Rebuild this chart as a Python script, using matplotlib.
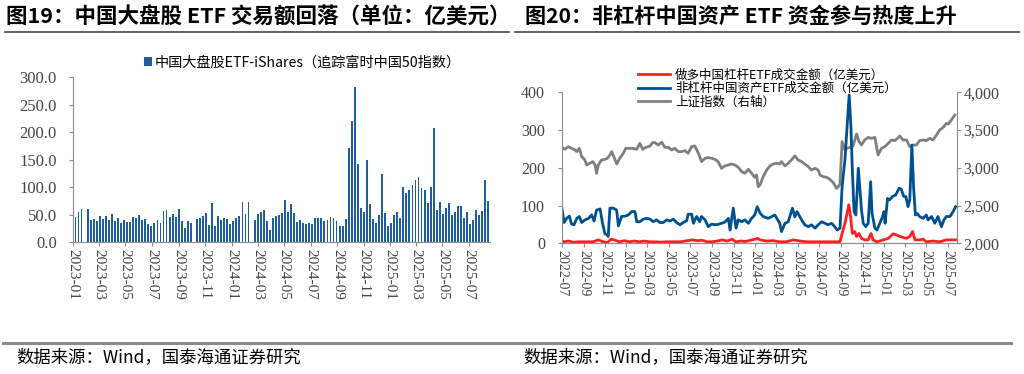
import matplotlib
matplotlib.use("Agg")
import matplotlib.pyplot as plt
import matplotlib.ticker as mticker
import numpy as np
import pandas as pd

plt.rcParams['font.family'] = ['Noto Sans CJK SC', 'DejaVu Sans']
plt.rcParams['axes.unicode_minus'] = False

# ---- left chart: weekly turnover of the China large-cap ETF (100m USD), NaN = no bar
etf_start = "2023-01-06"
etf_turnover = [
    46, 56, 61, np.nan, 61, 40, 43, 39, 48, 42, 48, 40, 51, 39, 44, 35, 40, 37, 37, 46,
    44, 49, 41, 42, 34, 30, 35, 41, 35, 57, 58, 46, 52, 46, 61, 39, 27, 39, 36, np.nan,
    42, 44, 48, 53, 31, 71, 29, 48, 41, 44, 42, 33, 39, 45, 48, 73, 52, 73, np.nan, 40,
    52, 56, 59, 38, 22, 44, 48, 50, 53, 77, 55, 69, 54, 37, 40, 35, 33, 36, 33, 44,
    45, 44, 39, 40, 47, 44, 38, 30, 30, 42, 172, 220, 282, 142, 62, 55, 150, 70, 42, 35,
    50, 125, 53, 29, 36, 50, 56, 44, 100, 89, 96, 105, 113, 119, 99, 95, 71, 101, 208, 59,
    73, 52, 62, 71, 50, 56, 67, 67, 44, 56, 34, 40, 58, 49, 57, 113, 75,
]
left_ticks = pd.date_range("2023-01-01", "2025-07-01", freq="2MS")

# ---- right chart
lev_dates = [
    "2022-07-01", "2022-07-10", "2022-07-20", "2022-08-03", "2022-08-17", "2022-08-31",
    "2022-09-15", "2022-09-29", "2022-10-13", "2022-10-27", "2022-11-08", "2022-11-18",
    "2022-11-27", "2022-12-12", "2022-12-26", "2023-01-09", "2023-01-23", "2023-02-06",
    "2023-02-20", "2023-03-07", "2023-03-21", "2023-04-09", "2023-04-28", "2023-05-17",
    "2023-06-04", "2023-06-23", "2023-07-07", "2023-07-21", "2023-08-04", "2023-08-18",
    "2023-09-01", "2023-09-16", "2023-09-30", "2023-10-14", "2023-10-28", "2023-11-07",
    "2023-11-21", "2023-12-05", "2023-12-19", "2024-01-02", "2024-01-08", "2024-01-15",
    "2024-02-03", "2024-02-21", "2024-03-11", "2024-03-30", "2024-04-18", "2024-05-07",
    "2024-05-26", "2024-06-14", "2024-07-03", "2024-07-22", "2024-08-10", "2024-08-29",
    "2024-09-04", "2024-09-12", "2024-09-18", "2024-09-23", "2024-09-28", "2024-10-03",
    "2024-10-10", "2024-10-15", "2024-10-22", "2024-10-29", "2024-11-07", "2024-11-17",
    "2024-11-25", "2024-12-01", "2024-12-11", "2024-12-20", "2024-12-30", "2025-01-13",
    "2025-01-27", "2025-02-06", "2025-02-15", "2025-03-06", "2025-03-15", "2025-03-23",
    "2025-03-30", "2025-04-12", "2025-04-22", "2025-05-01", "2025-05-20", "2025-06-08",
    "2025-06-27", "2025-07-23",
]
lev_turnover = [
    6, 4, 6, 3, 4, 4, 4, 4, 9, 4, 2, 11, 9, 4, 7, 4, 6, 4, 6, 4, 4, 3, 4, 4, 4, 7, 9, 7,
    8, 4, 4, 6, 9, 6, 11, 4, 6, 5, 8, 11, 13, 9, 6, 7, 4, 4, 9, 6, 4, 4, 4, 4, 4, 4,
    26, 53, 79, 102, 71, 26, 31, 18, 26, 13, 9, 9, 26, 9, 4, 6, 9, 13, 25, 22, 18, 13,
    18, 31, 9, 9, 11, 4, 6, 4, 9, 9,
]

china_dates = [
    "2022-07-01", "2022-07-08", "2022-07-15", "2022-07-23", "2022-07-29", "2022-08-05",
    "2022-08-13", "2022-08-20", "2022-08-27", "2022-09-05", "2022-09-15", "2022-09-24",
    "2022-10-01", "2022-10-08", "2022-10-18", "2022-10-25", "2022-11-01", "2022-11-08",
    "2022-11-10", "2022-11-15", "2022-11-25", "2022-12-04", "2022-12-09", "2022-12-18",
    "2022-12-28", "2023-01-06", "2023-01-16", "2023-01-25", "2023-01-30", "2023-02-08",
    "2023-02-18", "2023-02-27", "2023-03-09", "2023-03-18", "2023-03-27", "2023-04-06",
    "2023-04-15", "2023-04-25", "2023-05-04", "2023-05-14", "2023-05-23", "2023-06-02",
    "2023-06-11", "2023-06-21", "2023-06-25", "2023-07-05", "2023-07-10", "2023-07-19",
    "2023-07-28", "2023-08-02", "2023-08-12", "2023-08-21", "2023-08-31", "2023-09-09",
    "2023-09-18", "2023-09-28", "2023-10-07", "2023-10-17", "2023-10-22", "2023-10-31",
    "2023-11-08", "2023-11-14", "2023-11-24", "2023-12-03", "2023-12-13", "2023-12-22",
    "2023-12-31", "2024-01-07", "2024-01-15", "2024-01-24", "2024-02-07", "2024-02-26",
    "2024-03-11", "2024-03-16", "2024-03-26", "2024-04-04", "2024-04-16", "2024-04-23",
    "2024-04-29", "2024-05-12", "2024-05-21", "2024-05-31", "2024-06-09", "2024-06-19",
    "2024-06-28", "2024-07-08", "2024-07-17", "2024-07-26", "2024-08-05", "2024-08-14",
    "2024-08-21", "2024-08-29", "2024-09-04", "2024-09-12", "2024-09-18", "2024-09-24",
    "2024-09-29", "2024-10-03", "2024-10-08", "2024-10-13", "2024-10-20", "2024-10-24",
    "2024-10-29", "2024-11-03", "2024-11-10", "2024-11-17", "2024-11-24", "2024-11-28",
    "2024-12-06", "2024-12-12", "2024-12-20", "2024-12-28", "2025-01-01", "2025-01-04",
    "2025-01-11", "2025-01-17", "2025-01-25", "2025-02-03", "2025-02-13", "2025-02-19",
    "2025-02-26", "2025-03-04", "2025-03-10", "2025-03-15", "2025-03-21", "2025-03-26",
    "2025-03-31", "2025-04-05", "2025-04-12", "2025-04-22", "2025-05-01", "2025-05-06",
    "2025-05-16", "2025-05-25", "2025-06-03", "2025-06-13", "2025-06-20", "2025-06-27",
    "2025-07-07", "2025-07-16", "2025-07-23",
]
china_turnover = [
    97, 55, 66, 72, 51, 49, 66, 71, 55, 62, 66, 75, 59, 88, 91, 53, 25, 22, 18, 93,
    93, 88, 46, 71, 72, 75, 84, 84, 57, 57, 64, 66, 64, 57, 62, 55, 55, 62, 59, 64,
    55, 49, 55, 60, 77, 77, 53, 71, 57, 71, 62, 44, 51, 49, 50, 53, 56, 66, 35, 93,
    40, 62, 57, 62, 53, 66, 75, 97, 80, 71, 66, 75, 53, 31, 53, 57, 93, 70, 84, 62,
    49, 44, 49, 40, 49, 57, 53, 49, 53, 44, 35, 40, 150, 221, 309, 393, 309, 194, 84, 75,
    199, 150, 88, 53, 44, 53, 163, 79, 40, 35, 53, 71, 84, 53, 119, 115, 124, 128, 146, 143,
    124, 124, 97, 115, 260, 146, 75, 79, 71, 66, 75, 62, 71, 53, 71, 44, 62, 71, 71, 84,
    97,
]

sse_dates = [
    "2022-07-01", "2022-07-10", "2022-07-20", "2022-07-29", "2022-08-08", "2022-08-13",
    "2022-08-20", "2022-08-27", "2022-09-05", "2022-09-10", "2022-09-19", "2022-09-27",
    "2022-10-04", "2022-10-08", "2022-10-13", "2022-10-22", "2022-11-01", "2022-11-08",
    "2022-11-15", "2022-11-20", "2022-11-26", "2022-12-04", "2022-12-13", "2022-12-23",
    "2022-12-30", "2023-01-11", "2023-01-20", "2023-01-30", "2023-02-08", "2023-02-16",
    "2023-02-25", "2023-03-09", "2023-03-16", "2023-03-23", "2023-04-01", "2023-04-11",
    "2023-04-20", "2023-04-30", "2023-05-09", "2023-05-18", "2023-05-28", "2023-06-06",
    "2023-06-16", "2023-06-25", "2023-07-05", "2023-07-14", "2023-07-24", "2023-08-02",
    "2023-08-12", "2023-08-21", "2023-08-31", "2023-09-09", "2023-09-18", "2023-09-28",
    "2023-10-07", "2023-10-17", "2023-10-26", "2023-11-05", "2023-11-14", "2023-11-24",
    "2023-12-03", "2023-12-13", "2023-12-22", "2023-12-31", "2024-01-05", "2024-01-10",
    "2024-01-15", "2024-01-24", "2024-02-03", "2024-02-12", "2024-02-21", "2024-03-02",
    "2024-03-11", "2024-03-16", "2024-03-26", "2024-04-04", "2024-04-13", "2024-04-23",
    "2024-05-02", "2024-05-12", "2024-05-21", "2024-05-31", "2024-06-09", "2024-06-19",
    "2024-06-28", "2024-07-03", "2024-07-12", "2024-07-22", "2024-07-31", "2024-08-10",
    "2024-08-19", "2024-08-24", "2024-08-29", "2024-09-04", "2024-09-12", "2024-09-18",
    "2024-09-26", "2024-10-05", "2024-10-15", "2024-10-22", "2024-10-29", "2024-11-07",
    "2024-11-17", "2024-11-26", "2024-12-06", "2024-12-15", "2024-12-25", "2025-01-03",
    "2025-01-13", "2025-01-22", "2025-02-01", "2025-02-15", "2025-02-24", "2025-03-06",
    "2025-03-15", "2025-03-25", "2025-04-03", "2025-04-12", "2025-04-22", "2025-05-01",
    "2025-05-11", "2025-05-20", "2025-05-30", "2025-06-08", "2025-06-18", "2025-06-27",
    "2025-07-02", "2025-07-11", "2025-07-21",
]
sse_index = [
    3272, 3245, 3280, 3258, 3236, 3214, 3258, 3148, 3104, 3037, 3060, 3082, 3037, 2927,
    3037, 3104, 3112, 3126, 3170, 3214, 3148, 3051, 3126, 3192, 3258, 3258, 3258, 3245,
    3324, 3245, 3271, 3289, 3333, 3333, 3302, 3338, 3271, 3271, 3236, 3258, 3214, 3214,
    3227, 3192, 3280, 3289, 3192, 3082, 3126, 3135, 3126, 3112, 3082, 2993, 3024, 3037,
    3051, 3037, 3007, 2949, 2927, 2980, 2927, 2874, 2905, 2750, 2773, 2883, 2971, 3024,
    3051, 3060, 3051, 3082, 3024, 3060, 3104, 3157, 3104, 3082, 3051, 3015, 2971, 2993,
    2971, 2905, 2883, 2874, 2848, 2803, 2728, 2750, 2786, 3347, 3236, 3258, 3271, 3289,
    3448, 3347, 3302, 3368, 3403, 3390, 3403, 3170, 3258, 3280, 3324, 3368, 3360, 3421,
    3368, 3368, 3280, 3302, 3302, 3360, 3368, 3360, 3390, 3368, 3435, 3501, 3536, 3589,
    3580, 3633, 3700,
]
right_ticks = pd.date_range("2022-07-01", "2025-07-01", freq="2MS")

num_font = "Liberation Serif"
cjk = ['Noto Sans CJK SC', 'DejaVu Sans']
axis_gray = "#8c8c8c"

fig = plt.figure(figsize=(10.24, 3.74), dpi=100)

# titles and rules
fig.text(0.006, 0.955, "图19：中国大盘股 ETF 交易额回落（单位：亿美元）", fontsize=15.5,
         fontweight="bold", family=cjk, va="center", ha="left")
fig.text(0.513, 0.955, "图20：非杠杆中国资产 ETF 资金参与热度上升", fontsize=15.2,
         fontweight="bold", family=cjk, va="center", ha="left")
fig.add_artist(plt.Line2D([0.005, 0.497], [0.915, 0.915], color="#555555", lw=1.3))
fig.add_artist(plt.Line2D([0.503, 0.995], [0.915, 0.915], color="#555555", lw=1.3))
fig.add_artist(plt.Line2D([0.003, 0.987], [0.083, 0.083], color="#8a8a8a", lw=2.2))
fig.text(0.016, 0.045, "数据来源：Wind，国泰海通证券研究", fontsize=12.5, family=cjk,
         va="center", ha="left")
fig.text(0.511, 0.045, "数据来源：Wind，国泰海通证券研究", fontsize=12.5, family=cjk,
         va="center", ha="left")

# ---- left chart
ax1 = fig.add_axes([0.0716, 0.352, 0.407, 0.441])
wk = pd.date_range(etf_start, periods=len(etf_turnover), freq="7D")
vals = np.array(etf_turnover, dtype=float)
ax1.bar(wk, vals, width=4.3, color="#1f5e9c", label="中国大盘股ETF-iShares（追踪富时中国50指数）")
ax1.set_ylim(0, 300)
ax1.set_yticks(np.arange(0, 301, 50))
ax1.yaxis.set_major_formatter(mticker.FuncFormatter(lambda v, p: f"{v:.1f}"))
ax1.set_xlim(pd.Timestamp("2023-01-01"), pd.Timestamp("2025-08-19"))
ax1.set_xticks(left_ticks)
ax1.set_xticklabels([d.strftime("%Y-%m") for d in left_ticks], rotation=-90,
                    family=num_font, fontsize=11)
for lab in ax1.get_yticklabels():
    lab.set_family(num_font)
    lab.set_fontsize(12)
for s in ["top", "right"]:
    ax1.spines[s].set_visible(False)
for s in ["left", "bottom"]:
    ax1.spines[s].set_color(axis_gray)
ax1.tick_params(axis="both", color=axis_gray, length=3, labelcolor="#444444", pad=2)
ax1.tick_params(axis="y", pad=9)
ax1.legend(loc="upper left", bbox_to_anchor=(0.155, 1.165), frameon=False, fontsize=10.2,
           handlelength=0.6, handleheight=0.6, handletextpad=0.2, borderaxespad=0)

# ---- right chart
ax2 = fig.add_axes([0.5485, 0.3495, 0.3857, 0.4037])
ax3 = ax2.twinx()
ld = pd.to_datetime(lev_dates)
cd = pd.to_datetime(china_dates)
sd = pd.to_datetime(sse_dates)
l3, = ax3.plot(sd, sse_index, color="#7f7f7f", lw=2.0, label="上证指数（右轴）")
l1, = ax2.plot(ld, lev_turnover, color="#ff1f1f", lw=2.0, label="做多中国杠杆ETF成交金额（亿美元）")
l2, = ax2.plot(cd, china_turnover, color="#00508f", lw=2.0, label="非杠杆中国资产ETF成交金额（亿美元）")
ax2.set_zorder(ax3.get_zorder() + 1)
ax2.patch.set_visible(False)
ax2.set_ylim(0, 400)
ax2.set_yticks(np.arange(0, 401, 100))
ax3.set_ylim(2000, 4000)
ax3.set_yticks(np.arange(2000, 4001, 500))
ax3.yaxis.set_major_formatter(mticker.FuncFormatter(lambda v, p: f"{int(v):,}"))
ax2.set_xlim(pd.Timestamp("2022-07-01"), pd.Timestamp("2025-07-26"))
ax2.set_xticks(right_ticks)
ax2.set_xticklabels([d.strftime("%Y-%m") for d in right_ticks], rotation=-90,
                    family=num_font, fontsize=10)
for ax in (ax2, ax3):
    for lab in ax.get_yticklabels():
        lab.set_family(num_font)
        lab.set_fontsize(11.5)
    ax.spines["top"].set_visible(False)
    for s in ["left", "right", "bottom"]:
        ax.spines[s].set_color(axis_gray)
    ax.tick_params(axis="both", color=axis_gray, length=3, labelcolor="#444444", pad=2)
ax2.tick_params(axis="y", pad=9)
ax2.spines["right"].set_visible(False)
ax3.spines["left"].set_visible(False)
ax2.legend(handles=[l1, l2, l3], loc="upper left", bbox_to_anchor=(0.18, 1.19),
           frameon=False, fontsize=9, handlelength=2.6, handletextpad=0.4,
           labelspacing=0.05, borderaxespad=0)

fig.savefig("out.png", dpi=100)
